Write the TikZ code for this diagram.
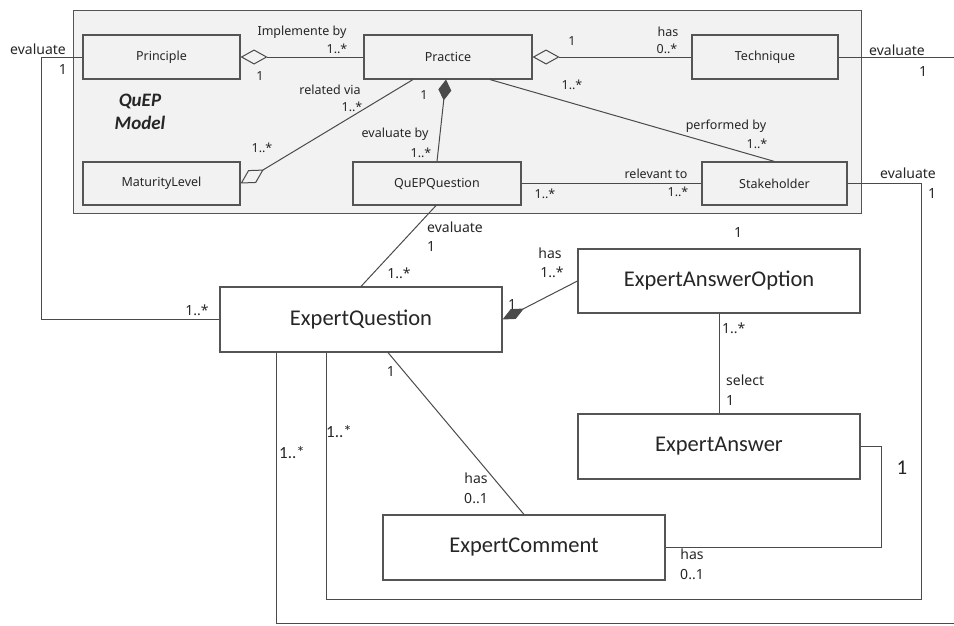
\documentclass[tikz,border=0pt]{standalone}
\usepackage{fontspec}
\setmainfont{Carlito}
\newfontfamily\notofont{Noto Sans}
\usetikzlibrary{arrows.meta}
\definecolor{linec}{HTML}{4A4A4A}
\definecolor{boxc}{HTML}{555555}
\definecolor{txtc}{HTML}{262626}
\definecolor{bgc}{HTML}{F2F2F2}
\tikzset{
  odiam/.tip={Diamond[open, length=27pt, width=15pt, line width=1pt]},
  fdiam/.tip={Diamond[length=21pt, width=13pt]},
  sdiam/.tip={Diamond[length=24pt, width=11pt]},
}
\begin{document}
\begin{tikzpicture}[x=1pt,y=-1pt,
  inbox/.style={draw=boxc, line width=1.1pt, fill=bgc, inner sep=0pt, text=txtc,
    font=\notofont\fontsize{12.5}{14}\selectfont},
  bigbox/.style={draw=boxc, line width=1.1pt, fill=white, inner sep=0pt, text=txtc,
    font=\fontsize{22.5}{26}\selectfont},
  conn/.style={draw=linec, line width=1pt},
  ilbl/.style={text=txtc, inner sep=0pt, font=\notofont\fontsize{12.5}{14}\selectfont},
  olbl/.style={text=txtc, inner sep=0pt, font=\notofont\fontsize{14}{16}\selectfont},
  clbl/.style={text=txtc, inner sep=0pt, font=\fontsize{17}{19}\selectfont},
]
\useasboundingbox (0,0) rectangle (954,625);
% model frame
\node[draw=boxc, line width=1pt, fill=bgc, minimum width=788pt, minimum height=203pt, inner sep=0pt] (frame) at (467,111.5) {};
% inner classes
\node[inbox, minimum width=157pt, minimum height=44pt] (princ) at (161.5,57) {Principle};
\node[inbox, minimum width=168pt, minimum height=44pt] (pract) at (448,57) {Practice};
\node[inbox, minimum width=146pt, minimum height=44pt] (tech) at (765,57) {Technique};
\node[inbox, minimum width=157pt, minimum height=43pt] (matur) at (161.5,183.5) {MaturityLevel};
\node[inbox, minimum width=168pt, minimum height=43pt] (qq) at (437,183.5) {QuEPQuestion};
\node[inbox, minimum width=145pt, minimum height=43pt] (stake) at (774.5,183.5) {Stakeholder};
\node[text=txtc, inner sep=0pt, align=center, font=\bfseries\itshape\fontsize{19}{23}\selectfont] (title) at (140,112) {QuEP\\Model};
% outer classes
\node[bigbox, minimum width=282pt, minimum height=65pt] (eq) at (361,319.5) {ExpertQuestion};
\node[bigbox, minimum width=282pt, minimum height=64pt] (eao) at (719,281) {ExpertAnswerOption};
\node[bigbox, minimum width=282pt, minimum height=65pt] (ea) at (719,446.5) {ExpertAnswer};
\node[bigbox, minimum width=282pt, minimum height=65pt] (ec) at (524,547.5) {ExpertComment};
\coordinate (offR) at (962,57);
\coordinate (offB) at (962,623);
% inner connectors
\draw[conn, odiam-] (princ.east) -- (pract.west);
\draw[conn, odiam-] (pract.east) -- (tech.west);
\draw[conn, -odiam] ([xshift=-35pt]pract.south) -- (matur.east);
\draw[conn, fdiam-] ([xshift=-2pt]pract.south) -- (qq.north);
\draw[conn] ([xshift=42pt]pract.south) -- (stake.north);
\draw[conn] (qq.east) -- (stake.west);
% outer connectors
\draw[conn] (princ.west) -- ++(-41,0) |- (eq.west);
\draw[conn] (tech.east) -- (offR);
\draw[conn] (stake.east) -| (921,599) -| ([xshift=-35pt]eq.south);
\draw[conn] ([xshift=-85pt]eq.south) |- (offB);
\draw[conn] ([xshift=-1pt]qq.south) -- (eq.north);
\draw[conn, sdiam-] (eq.east) -- (eao.west);
\draw[conn] (eao.south) -- (ea.north);
\draw[conn] ([xshift=27pt]eq.south) -- (ec.north);
\draw[conn] (ea.east) -- ++(21,0) |- (ec.east);
% inner labels
\node[ilbl] (l1) at (302,32) {Implemente by};
\node[ilbl] (l2) at (337,49) {1..*};
\node[ilbl] (l3) at (260,76) {1};
\node[ilbl] (l4) at (330,90) {related via};
\node[ilbl] (l5) at (352,107) {1..*};
\node[ilbl] (l6) at (262,148) {1..*};
\node[ilbl] (l7) at (424,95) {1};
\node[ilbl] (l8) at (395,134) {evaluate by};
\node[ilbl] (l9) at (421,153) {1..*};
\node[ilbl] (l10) at (572,41) {1};
\node[ilbl] (l11) at (668,32) {has};
\node[ilbl] (l12) at (667,49) {0..*};
\node[ilbl] (l13) at (572,85) {1..*};
\node[ilbl] (l14) at (726,126) {performed by};
\node[ilbl] (l15) at (757,144) {1..*};
\node[ilbl] (l16) at (656,174) {relevant to};
\node[ilbl] (l17) at (545,194) {1..*};
\node[ilbl] (l18) at (678,192) {1..*};
% outer labels
\node[olbl] (m1) at (38,49) {evaluate};
\node[olbl] (m2) at (63,69) {1};
\node[olbl] (m3) at (897,50) {evaluate};
\node[olbl] (m4) at (923,71) {1};
\node[olbl] (m5) at (908,173) {evaluate};
\node[olbl] (m6) at (932,193) {1};
\node[olbl, anchor=west] (m7) at (427,227) {evaluate};
\node[olbl, anchor=west] (m8) at (427,246) {1};
\node[olbl] (m9) at (399,273) {1..*};
\node[olbl] (m10) at (197,310) {1..*};
\node[olbl] (m11) at (550,253) {has};
\node[olbl] (m12) at (552,272) {1..*};
\node[olbl] (m13) at (512,304) {1};
\node[olbl] (m14) at (738,232) {1};
\node[olbl, anchor=west] (m15) at (722,328) {1..*};
\node[olbl, anchor=west] (m16) at (726,380) {select};
\node[olbl, anchor=west] (m17) at (726,400) {1};
\node[olbl] (m18) at (391,371) {1};
\node[olbl] (m19) at (476,478) {has};
\node[olbl] (m20) at (476,499) {0..1};
\node[olbl] (m21) at (692,554) {has};
\node[olbl] (m22) at (692,575) {0..1};
\node[text=txtc, inner sep=0pt, font=\fontsize{21}{24}\selectfont] (m23) at (902,468) {1};
\node[clbl] (m24) at (339,432) {1..*};
\node[clbl] (m25) at (292,453) {1..*};
\end{tikzpicture}
\end{document}
